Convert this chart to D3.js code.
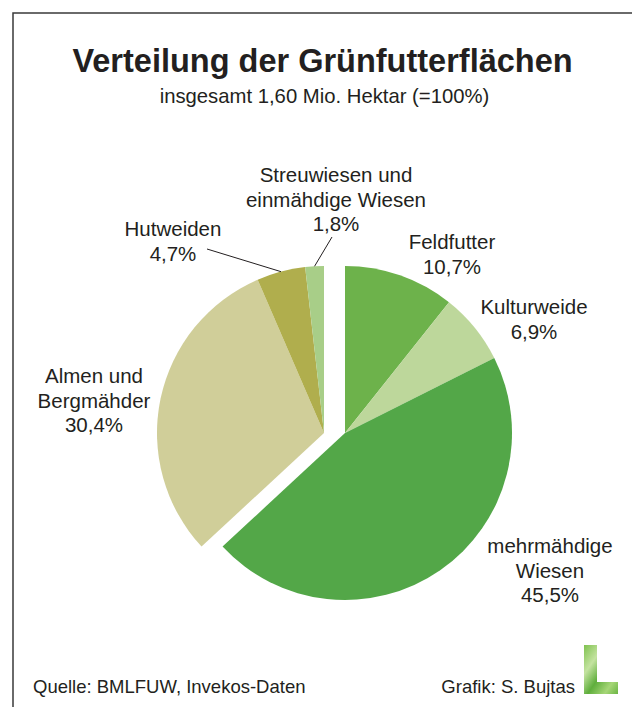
<!DOCTYPE html>
<html>
<head>
<meta charset="utf-8">
<script src="https://cdn.jsdelivr.net/npm/d3@7"></script>
<style>
  body { margin: 0; background: #fff; }
  svg { display: block; font-family: "Liberation Sans", Arial, sans-serif; }
</style>
</head>
<body>
<svg id="viz"></svg>
<script>
// data
const categories = ["Feldfutter", "Kulturweide", "mehrmähdige Wiesen", "Almen und Bergmähder", "Hutweiden", "Streuwiesen und einmähdige Wiesen"];
const shares = [10.7, 6.9, 45.5, 30.4, 4.7, 1.8];
const labelLines = [["Feldfutter"], ["Kulturweide"], ["mehrmähdige", "Wiesen"], ["Almen und", "Bergmähder"], ["Hutweiden"], ["Streuwiesen und", "einmähdige Wiesen"]];
const groups = [0, 0, 0, 1, 1, 1];

const colors = ["#6db24b", "#bdd79b", "#53a748", "#d0ce99", "#b0ae4d", "#a8ce88"];

const width = 632, height = 707;
const textColor = "#231f20";

const svg = d3.select("#viz").attr("width", width).attr("height", height);

// frame (top + left only)
svg.append("path")
    .attr("d", "M13,707 V13 H632")
    .attr("fill", "none")
    .attr("stroke", "#3a3a3a")
    .attr("stroke-width", 1.5);

svg.append("text")
    .attr("x", 322.5).attr("y", 72)
    .attr("text-anchor", "middle")
    .attr("font-size", 32.5).attr("font-weight", "bold")
    .attr("fill", textColor)
    .text("Verteilung der Grünfutterflächen");

svg.append("text")
    .attr("x", 324.5).attr("y", 103)
    .attr("text-anchor", "middle")
    .attr("font-size", 20.3)
    .attr("fill", textColor)
    .text("insgesamt 1,60 Mio. Hektar (=100%)");

// pie
const cx = 334.5, cy = 433, r = 167, shift = 10.5;
const data = categories.map((c, i) => ({cat: c, value: shares[i], group: groups[i], lines: labelLines[i], color: colors[i]}));

const pie = d3.pie().sort(null).value(d => d.value);
const arc = d3.arc().innerRadius(0).outerRadius(r);
const arcs = pie(data);

const dx = g => g === 0 ? shift : -shift;

svg.append("g")
    .selectAll("path")
    .data(arcs)
    .join("path")
    .attr("transform", d => `translate(${cx + dx(d.data.group)},${cy})`)
    .attr("d", arc)
    .attr("fill", d => d.data.color);

// labels
const de = d3.formatLocale({decimal: ",", thousands: ".", grouping: [3], currency: ["", " €"]});
const pct = v => de.format(".1f")(v) + "%";

const labelPos = {
    "Feldfutter": [452, 249],
    "Kulturweide": [534, 314],
    "mehrmähdige Wiesen": [550, 553],
    "Almen und Bergmähder": [94, 383],
    "Hutweiden": [173, 236],
    "Streuwiesen und einmähdige Wiesen": [336, 182]
};
const lineH = 24.5;

const lbl = svg.append("g")
    .attr("font-size", 20.5)
    .attr("fill", textColor)
    .attr("text-anchor", "middle")
    .selectAll("text")
    .data(arcs)
    .join("text")
    .attr("x", d => labelPos[d.data.cat][0])
    .attr("y", d => labelPos[d.data.cat][1]);

lbl.each(function(d) {
    const t = d3.select(this);
    const [x] = labelPos[d.data.cat];
    d.data.lines.concat([pct(d.data.value)]).forEach((s, i) => {
        t.append("tspan").attr("x", x).attr("dy", i === 0 ? 0 : lineH).text(s);
    });
});

// leader lines for the two small slices
const leaderStart = {"Hutweiden": [207, 249], "Streuwiesen und einmähdige Wiesen": [332, 237]};
const edgeArc = d3.arc().innerRadius(r).outerRadius(r);

svg.append("g")
    .selectAll("line")
    .data(arcs.filter(d => leaderStart[d.data.cat]))
    .join("line")
    .attr("x1", d => leaderStart[d.data.cat][0])
    .attr("y1", d => leaderStart[d.data.cat][1])
    .attr("x2", d => cx + dx(d.data.group) + edgeArc.centroid(d)[0])
    .attr("y2", d => cy + edgeArc.centroid(d)[1])
    .attr("stroke", textColor)
    .attr("stroke-width", 1);

// footer
svg.append("text")
    .attr("x", 33).attr("y", 693)
    .attr("font-size", 18.5).attr("fill", textColor)
    .text("Quelle: BMLFUW, Invekos-Daten");

svg.append("text")
    .attr("x", 575).attr("y", 693)
    .attr("text-anchor", "end")
    .attr("font-size", 18.5).attr("fill", textColor)
    .text("Grafik: S. Bujtas");

// small green "L" logo
const defs = svg.append("defs");
const grad = defs.append("linearGradient").attr("id", "leaf")
    .attr("x1", "0%").attr("y1", "0%").attr("x2", "100%").attr("y2", "100%");
[["0%", "#7fc24f"], ["30%", "#c4e3a0"], ["55%", "#5fae3c"], ["80%", "#a6d677"], ["100%", "#6bb544"]]
    .forEach(([o, c]) => grad.append("stop").attr("offset", o).attr("stop-color", c));

svg.append("path")
    .attr("d", "M584,645 H597 V682 H618 V694 H584 Z")
    .attr("fill", "url(#leaf)");
</script>
</body>
</html>
